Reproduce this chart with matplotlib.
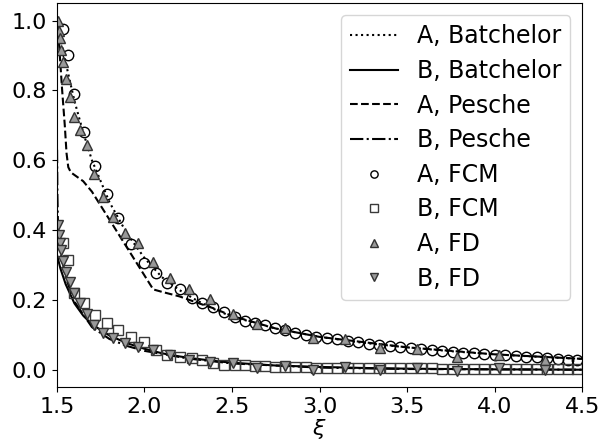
import numpy as np
import matplotlib
matplotlib.use("Agg")
import matplotlib.pyplot as plt

# Analytical curves
batch_x = [1.5, 1.52, 1.55, 1.6, 1.65, 1.7, 1.8, 1.9, 2.0, 2.1, 2.2, 2.3, 2.4, 2.5,
           2.75, 3.0, 3.25, 3.5, 3.75, 4.0, 4.25, 4.5]
batch_a = [1.0, 0.95, 0.88, 0.77, 0.68, 0.60, 0.48, 0.39, 0.32, 0.265, 0.228, 0.198, 0.173, 0.152,
           0.118, 0.094, 0.077, 0.064, 0.053, 0.044, 0.037, 0.031]
batch_b = [0.33, 0.29, 0.245, 0.19, 0.155, 0.13, 0.098, 0.076, 0.06, 0.047, 0.038, 0.031, 0.025, 0.02,
           0.012, 0.008, 0.005, 0.003, 0.002, 0.001, 0.0005, 0.0]

pesche_ax = [1.5, 1.51, 1.53, 1.545, 1.555, 1.565, 1.58, 1.65, 1.7, 1.8, 1.9, 2.0, 2.05,
             2.1, 2.2, 2.3, 2.4, 2.5, 2.75, 3.0, 3.5, 4.0, 4.5]
pesche_a = [1.0, 0.95, 0.80, 0.70, 0.62, 0.58, 0.565, 0.54, 0.51, 0.43, 0.35, 0.27, 0.23,
            0.223, 0.21, 0.192, 0.175, 0.154, 0.118, 0.094, 0.064, 0.044, 0.031]
pesche_bx = [1.501, 1.503, 1.506, 1.52, 1.55, 1.6, 1.7, 1.8, 1.9, 2.0, 2.25, 2.5, 3.0, 3.5, 4.0, 4.5]
pesche_b = [0.63, 0.50, 0.42, 0.34, 0.265, 0.195, 0.122, 0.088, 0.068, 0.054, 0.032, 0.018, 0.006, 0.002, 0.001, 0.0]

# FCM results
fcm_x = [1.534, 1.563, 1.597, 1.654, 1.717, 1.786, 1.849, 1.923, 1.997, 2.066, 2.129, 2.203,
         2.271, 2.329, 2.391, 2.454, 2.517, 2.574, 2.631, 2.689, 2.746, 2.803, 2.86, 2.92,
         2.98, 3.04, 3.1, 3.16, 3.22, 3.28, 3.34, 3.4, 3.46, 3.52, 3.58, 3.64, 3.7, 3.76,
         3.82, 3.88, 3.94, 4.0, 4.06, 4.12, 4.18, 4.24, 4.3, 4.36, 4.42, 4.47]
fcm_a = [0.977, 0.900, 0.789, 0.680, 0.583, 0.503, 0.434, 0.360, 0.306, 0.277, 0.249, 0.231,
         0.206, 0.191, 0.180, 0.166, 0.151, 0.140, 0.134, 0.129, 0.120, 0.114, 0.106, 0.100,
         0.095, 0.091, 0.087, 0.083, 0.079, 0.075, 0.072, 0.069, 0.066, 0.063, 0.060, 0.057, 0.054, 0.051,
         0.049, 0.047, 0.045, 0.043, 0.041, 0.039, 0.037, 0.035, 0.033, 0.031, 0.029, 0.027]
fcm_b = [0.363, 0.314, 0.220, 0.191, 0.157, 0.134, 0.114, 0.094, 0.080, 0.057, 0.043, 0.037,
         0.034, 0.029, 0.020, 0.014, 0.014, 0.014, 0.011, 0.010, 0.009, 0.009, 0.007, 0.007,
         0.006, 0.006, 0.006, 0.005, 0.005, 0.005, 0.005, 0.004, 0.004, 0.004, 0.004, 0.004, 0.003, 0.003,
         0.003, 0.003, 0.003, 0.003, 0.003, 0.002, 0.002, 0.002, 0.002, 0.002, 0.002, 0.002]

# FD results
fd_x = [1.506, 1.511, 1.517, 1.523, 1.534, 1.551, 1.574, 1.597, 1.631, 1.671, 1.711, 1.763,
        1.82, 1.889, 1.963, 2.049, 2.146, 2.254, 2.374, 2.506, 2.643, 2.803, 2.963, 3.146,
        3.346, 3.557, 3.786, 4.026, 4.289]
fd_a = [1.0, 0.971, 0.949, 0.917, 0.88, 0.834, 0.78, 0.723, 0.686, 0.643, 0.56, 0.494,
        0.437, 0.391, 0.363, 0.309, 0.263, 0.231, 0.203, 0.16, 0.131, 0.12, 0.091, 0.089,
        0.063, 0.06, 0.037, 0.043, 0.029]
fd_b = [0.414, 0.386, 0.363, 0.343, 0.31, 0.28, 0.251, 0.22, 0.19, 0.16, 0.129, 0.106,
        0.091, 0.077, 0.066, 0.057, 0.043, 0.029, 0.023, 0.02, 0.006, 0.011, 0.0, 0.009,
        0.0, 0.006, -0.003, 0.006, 0.0]

fig = plt.figure(figsize=(5.99, 4.44), dpi=100)
ax = fig.add_axes([0.095, 0.128, 0.877, 0.865])

ax.plot(batch_x, batch_a, 'k:', lw=1.5, label='A, Batchelor')
ax.plot(batch_x, batch_b, 'k-', lw=1.5, label='B, Batchelor')
ax.plot(pesche_ax, pesche_a, 'k--', lw=1.5, label='A, Pesche')
ax.plot(pesche_bx, pesche_b, 'k-.', lw=1.5, label='B, Pesche')

ax.plot(fcm_x, fcm_a, 'o', ms=7.5, mfc='none', mec='black', mew=1.0, label='A, FCM')
ax.plot(fcm_x, fcm_b, 's', ms=7.5, mfc='none', mec='#3a3a3a', mew=1.0, label='B, FCM')
ax.plot(fd_x, fd_a, '^', ms=7.5, mfc='#999999', mec='#333333', mew=1.0, label='A, FD')
ax.plot(fd_x, fd_b, 'v', ms=7.5, mfc='#999999', mec='#333333', mew=1.0, label='B, FD')

ax.set_xlim(1.5, 4.5)
ax.set_ylim(-0.05, 1.05)
ax.set_xticks([1.5, 2.0, 2.5, 3.0, 3.5, 4.0, 4.5])
ax.set_yticks([0.0, 0.2, 0.4, 0.6, 0.8, 1.0])
ax.tick_params(labelsize=16)
ax.set_xlabel(r'$\xi$', fontsize=16, labelpad=0)

ax.legend(loc='upper right', fontsize=17, markerscale=0.7, labelspacing=0.45)

fig.savefig('out.png', dpi=100)
